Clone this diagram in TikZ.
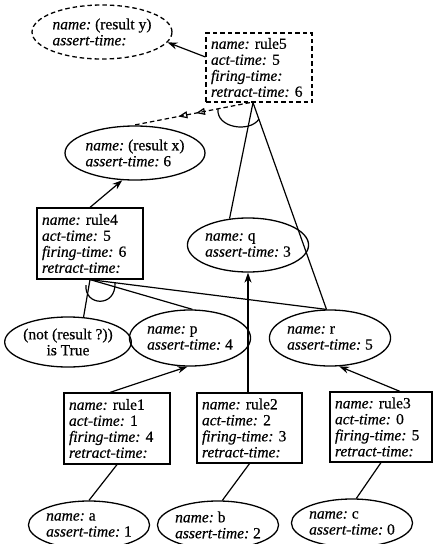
\documentclass[tikz,border=0pt]{standalone}
\usepackage{fontspec}
\setmainfont[FakeBold=0.5]{Liberation Serif}
\usetikzlibrary{shapes.geometric,arrows.meta,decorations.markings,calc}
\newcommand{\fld}[1]{{\itshape #1:}}
\frenchspacing
\begin{document}
\begin{tikzpicture}[x=1pt,y=-1pt,
  every node/.style={font=\fontsize{15.5}{16}\selectfont},
  rulebox/.style={draw, line width=1.2pt, rectangle, inner xsep=5pt, inner ysep=0pt, align=left},
  fact/.style={draw, ellipse, line width=1.3pt, inner sep=0pt, align=left},
  dsh/.style={dash pattern=on 4.5pt off 3pt},
  conn/.style={line width=1.2pt},
  arr/.style={line width=1.2pt, -{Stealth[length=10pt,width=7pt]}},
  tri/.style={line width=1.2pt, dsh, postaction={decorate},
    decoration={markings,
      mark=at position 0.46 with {\arrow[solid]{Triangle[open,length=9pt,width=7pt]}},
      mark=at position 0.61 with {\arrow[solid]{Triangle[open,length=9pt,width=7pt]}}}}
]
\useasboundingbox (0,0) rectangle (434,544);

% nodes
\node[fact, dsh, minimum width=131pt, minimum height=54pt] (ry) at (102,32)
  {\fld{name} (result y)\\ \fld{assert-time}};
\node[rulebox, dsh, text width=96pt, minimum height=69pt] (rule5) at (259,67.5)
  {\fld{name} rule5\\ \fld{act-time} 5\\ \fld{firing-time}\\ \fld{retract-time} 6};
\node[fact, minimum width=124pt, minimum height=54pt] (rx) at (135,153)
  {\fld{name} (result x)\\ \fld{assert-time} 6};
\node[rulebox, text width=96pt, minimum height=71pt] (rule4) at (90,243.5)
  {\fld{name} rule4\\ \fld{act-time} 5\\ \fld{firing-time} 6\\ \fld{retract-time}};
\node[fact, minimum width=105pt, minimum height=54pt] (q) at (248,245)
  {\fld{name} q\\ \fld{assert-time} 3};
\node[fact, align=center, minimum width=121pt, minimum height=50pt] (nr) at (68,342)
  {(not (result ?))\\ is True};
\node[fact, minimum width=105pt, minimum height=56pt] (p) at (190,338)
  {\fld{name} p\\ \fld{assert-time} 4};
\node[fact, minimum width=105pt, minimum height=56pt] (r) at (330,338)
  {\fld{name} r\\ \fld{assert-time} 5};
\node[rulebox, text width=96pt, minimum height=71pt] (rule1) at (117,428.5)
  {\fld{name} rule1\\ \fld{act-time} 1\\ \fld{firing-time} 4\\ \fld{retract-time}};
\node[rulebox, text width=95pt, minimum height=70pt] (rule2) at (249.5,428)
  {\fld{name} rule2\\ \fld{act-time} 2\\ \fld{firing-time} 3\\ \fld{retract-time}};
\node[rulebox, text width=92pt, minimum height=70pt] (rule3) at (381,427)
  {\fld{name} rule3\\ \fld{act-time} 0\\ \fld{firing-time} 5\\ \fld{retract-time}};
\node[fact, minimum width=105pt, minimum height=48pt] (a) at (89,525)
  {\fld{name} a\\ \fld{assert-time} 1};
\node[fact, minimum width=104pt, minimum height=48pt] (b) at (218,525)
  {\fld{name} b\\ \fld{assert-time} 2};
\node[fact, minimum width=105pt, minimum height=48pt] (c) at (352,523)
  {\fld{name} c\\ \fld{assert-time} 0};

% helper coordinates
\coordinate (r5o) at ($(rule5.south)+(-6,0)$);
\coordinate (r5d) at ($(rule5.south)+(-9,0)$);

% connectors
\draw[arr] ($(rule5.north west)!0.35!(rule5.south west)$) -- (ry.-9);
\draw[tri] (r5d) -- (rx.95);
\draw[conn] (r5o) -- (q.125);
\draw[conn] (r5o) -- (r.97);
\draw[conn] (218,109) .. controls (216,128) and (250,133) .. (259,119);

\draw[arr] (rule4.north) -- (rx.-115);
\draw[conn] (rule4.south) -- (nr.58);
\draw[conn] (rule4.south) -- (p.85);
\draw[conn] (rule4.south) -- (r.97);
\draw[conn] (86,285) .. controls (84,306) and (116,308) .. (115,283);

\draw[arr] ($(rule1.north)+(-7,0)$) -- (p.-95);
\draw[arr] (rule2.north -| q.south) -- (q.south);
\draw[arr] ($(rule3.north)+(19,0)$) -- (r.-72);

\draw[conn] (rule1.south) -- (a.north);
\draw[conn] (rule2.south) -- (b.80);
\draw[conn] (rule3.south) -- (c.80);
\end{tikzpicture}
\end{document}
